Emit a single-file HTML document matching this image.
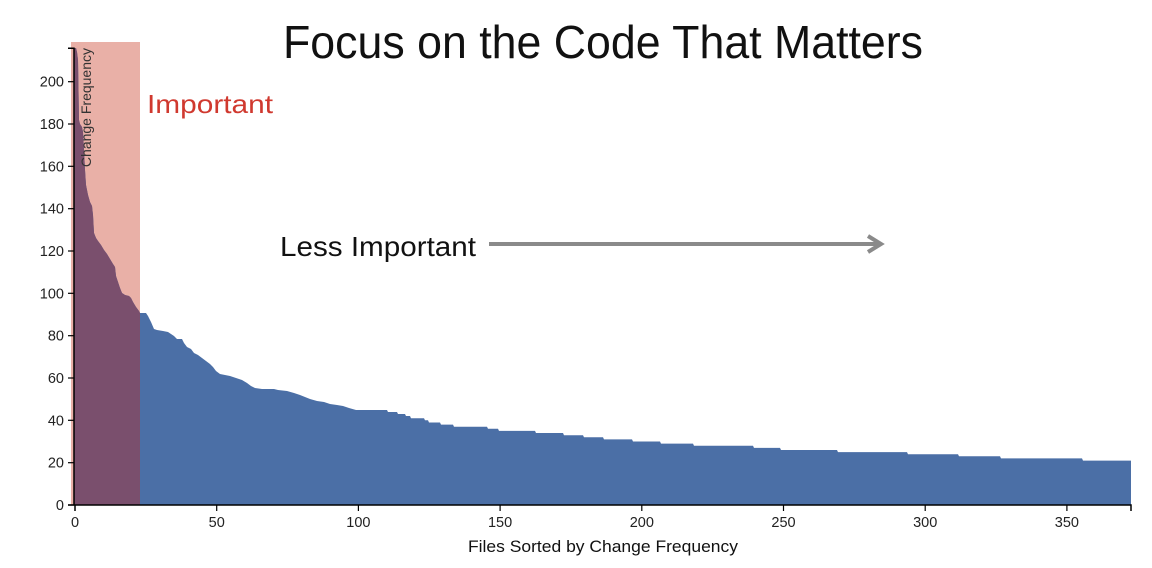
<!DOCTYPE html>
<html>
<head>
<meta charset="utf-8">
<style>
  html,body{margin:0;padding:0;background:#fff;}
  svg{display:block;}
  text{font-family:"Liberation Sans", Arial, sans-serif;}
</style>
</head>
<body>
<svg width="1152" height="568" viewBox="0 0 1152 568" xmlns="http://www.w3.org/2000/svg">
  <defs>
    <clipPath id="pinkclip">
      <rect x="71" y="42" width="69" height="463"/>
    </clipPath>
    <path id="area" d="M74,505 L74,48 L76,48 L77,52 L78,60 L78.5,90 L79,120 L80,124 L82,127 L83,132 L84,150 L85,170 L86,185 L88,195 L90,202 L92,206 L93,215 L94,233 L96,238 L98,241 L101,245 L104,250 L107,254 L110,259 L113,264 L115,267 L116,276 L118,282 L120,288 L122,293 L125,295 L129,296 L131,298 L133,302 L136,307 L139,311 L140,313 L146,313 L148,316 L151,322 L154,329 L157,330 L163,331 L168,332 L171,334 L174,336 L177,339 L182,339 L184,343 L187,347 L191,349 L194,353 L198,355 L202,358 L206,361 L210,364 L213,367 L216,371 L220,374 L225,375 L230,376 L236,378 L242,380 L247,383 L251,386 L255,388 L262,389 L274,389 L278,390 L287,391 L294,393 L300,395 L305,397 L310,399 L317,401 L324,402 L330,404 L337,405 L343,406 L349,408 L356,410 L387,410 L388,412 L397,412 L398,414 L405,414 L406,416 L410,416 L411,418.2 L424,418.2 L425,420.3 L428,420.3 L429,422.5 L440,422.5 L441,424.6 L453,424.6 L454,426.7 L487,426.7 L488,428.8 L498,428.8 L499,430.9 L535,430.9 L536,433 L563,433 L564,435.2 L583,435.2 L584,437.3 L603,437.3 L604,439.4 L632,439.4 L633,441.5 L660,441.5 L661,443.6 L693,443.6 L694,445.7 L753,445.7 L754,447.9 L780,447.9 L781,450 L837,450 L838,452.1 L907,452.1 L908,454.2 L958,454.2 L959,456.3 L1000,456.3 L1001,458.4 L1082,458.4 L1083,460.6 L1131,460.6 L1131,505 Z"/>
  </defs>

  <!-- pink highlight band -->
  <rect x="71" y="42" width="69" height="463" fill="#e9b0a7"/>

  <!-- blue area -->
  <use href="#area" fill="#4b6fa6"/>
  <!-- overlap (purple) -->
  <use href="#area" fill="#7a4f6d" clip-path="url(#pinkclip)"/>

  <!-- Title -->
  <text x="283" y="58" font-size="46" fill="#111" textLength="640" lengthAdjust="spacingAndGlyphs">Focus on the Code That Matters</text>

  <!-- Important label -->
  <text x="147" y="113" font-size="26" fill="#d0392f" textLength="126" lengthAdjust="spacingAndGlyphs">Important</text>

  <!-- Less Important + arrow -->
  <text x="280" y="256" font-size="28" fill="#111" textLength="196" lengthAdjust="spacingAndGlyphs">Less Important</text>
  <line x1="489" y1="244" x2="880" y2="244" stroke="#8a8a8a" stroke-width="4"/>
  <polyline points="868,236 881,244 868,252" fill="none" stroke="#8a8a8a" stroke-width="4" stroke-linejoin="miter"/>

  <!-- Y axis -->
  <path d="M68,48.3H74V505H68" fill="none" stroke="#000" stroke-width="1.5"/>
  <g stroke="#000" stroke-width="1.2">
    <line x1="68" y1="505" x2="74" y2="505"/>
    <line x1="68" y1="462.7" x2="74" y2="462.7"/>
    <line x1="68" y1="420.3" x2="74" y2="420.3"/>
    <line x1="68" y1="378" x2="74" y2="378"/>
    <line x1="68" y1="335.7" x2="74" y2="335.7"/>
    <line x1="68" y1="293.3" x2="74" y2="293.3"/>
    <line x1="68" y1="251" x2="74" y2="251"/>
    <line x1="68" y1="208.7" x2="74" y2="208.7"/>
    <line x1="68" y1="166.3" x2="74" y2="166.3"/>
    <line x1="68" y1="124" x2="74" y2="124"/>
    <line x1="68" y1="81.7" x2="74" y2="81.7"/>
  </g>
  <g font-size="14.5" fill="#222" text-anchor="end">
    <text x="64" y="510">0</text>
    <text x="64" y="467.7">20</text>
    <text x="64" y="425.3">40</text>
    <text x="64" y="383">60</text>
    <text x="64" y="340.7">80</text>
    <text x="64" y="298.3">100</text>
    <text x="64" y="256">120</text>
    <text x="64" y="213.7">140</text>
    <text x="64" y="171.3">160</text>
    <text x="64" y="129">180</text>
    <text x="64" y="86.7">200</text>
  </g>
  <text transform="translate(91,48) rotate(-90)" text-anchor="end" font-size="14" fill="#333">Change Frequency</text>

  <!-- X axis -->
  <path d="M75,511V505H1131V511" fill="none" stroke="#000" stroke-width="1.5"/>
  <g stroke="#000" stroke-width="1.2">
    <line x1="216.7" y1="505" x2="216.7" y2="511"/>
    <line x1="358.4" y1="505" x2="358.4" y2="511"/>
    <line x1="500.1" y1="505" x2="500.1" y2="511"/>
    <line x1="641.8" y1="505" x2="641.8" y2="511"/>
    <line x1="783.5" y1="505" x2="783.5" y2="511"/>
    <line x1="925.2" y1="505" x2="925.2" y2="511"/>
    <line x1="1066.9" y1="505" x2="1066.9" y2="511"/>
  </g>
  <g font-size="14.5" fill="#222" text-anchor="middle">
    <text x="75" y="527">0</text>
    <text x="216.7" y="527">50</text>
    <text x="358.4" y="527">100</text>
    <text x="500.1" y="527">150</text>
    <text x="641.8" y="527">200</text>
    <text x="783.5" y="527">250</text>
    <text x="925.2" y="527">300</text>
    <text x="1066.9" y="527">350</text>
  </g>
  <text x="603" y="552" font-size="17" fill="#111" text-anchor="middle" textLength="270" lengthAdjust="spacingAndGlyphs">Files Sorted by Change Frequency</text>
</svg>
</body>
</html>
